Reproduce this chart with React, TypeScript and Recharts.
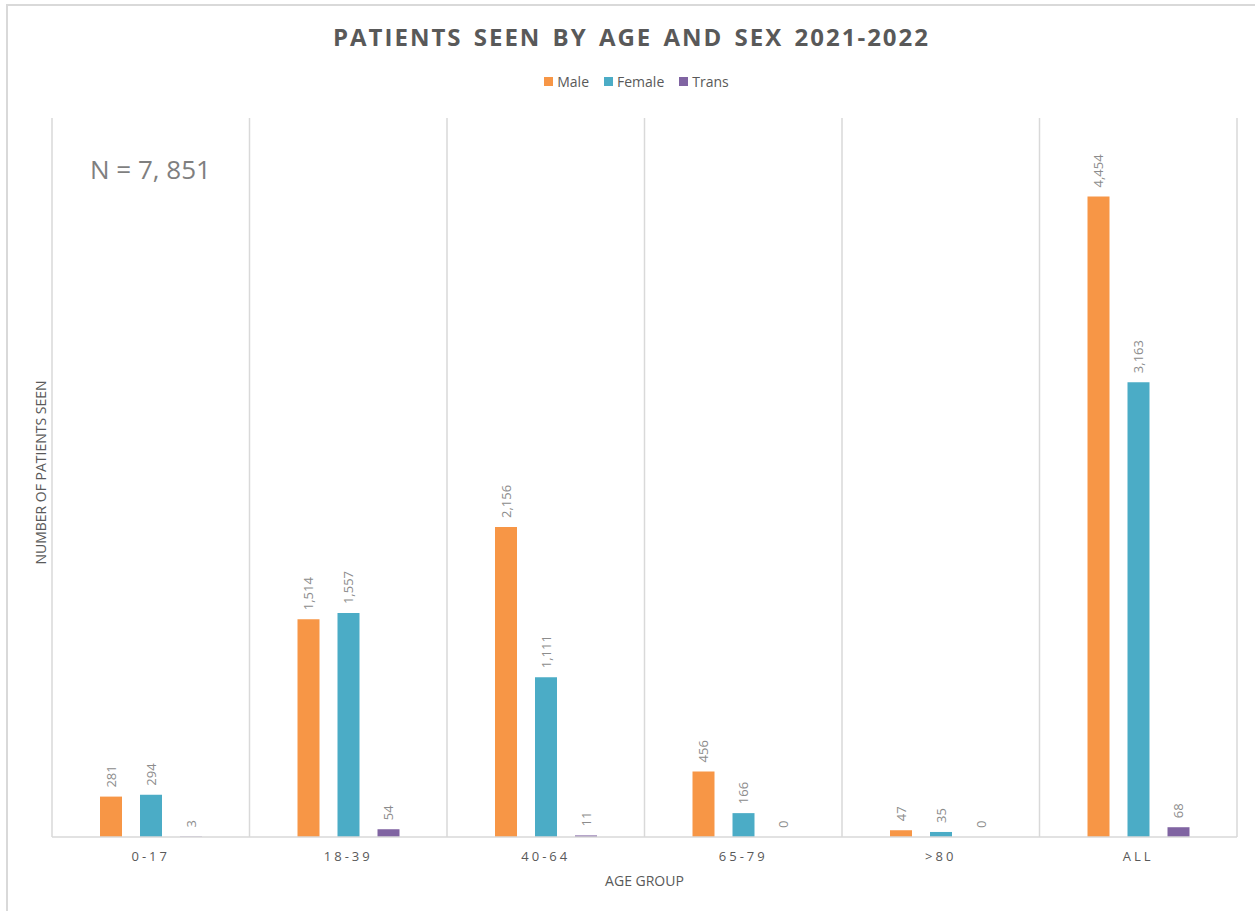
import React from "react";
import {
  BarChart,
  Bar,
  XAxis,
  YAxis,
  CartesianGrid,
  Legend,
  LabelList,
} from "recharts";

// Excel-style palette
const COLOURS = {
  male: "#F79646",
  female: "#4BACC6",
  trans: "#8064A2",
};

const AGE_GROUPS = ["0-17", "18-39", "40-64", "65-79", ">80", "ALL"];
const MALE = [281, 1514, 2156, 456, 47, 4454];
const FEMALE = [294, 1557, 1111, 166, 35, 3163];
const TRANS = [3, 54, 11, 0, 0, 68];

const data = AGE_GROUPS.map((group, i) => ({
  group,
  Male: MALE[i],
  Female: FEMALE[i],
  Trans: TRANS[i],
}));

const SERIES = [
  { key: "Male", colour: COLOURS.male },
  { key: "Female", colour: COLOURS.female },
  { key: "Trans", colour: COLOURS.trans },
];

const FONT = "'Open Sans', 'Liberation Sans', sans-serif";

// rotated value label sitting just above the bar
function BarValue(props: any) {
  const { x, y, width, value } = props;
  const cx = Number(x) + Number(width) / 2;
  const cy = Number(y) - 9;
  return (
    <text
      x={cx}
      y={cy}
      transform={`rotate(-90 ${cx} ${cy})`}
      textAnchor="start"
      dominantBaseline="central"
      fontSize={13}
      fontFamily={FONT}
      fill="#8c8c8c"
    >
      {Number(value).toLocaleString("en-US")}
    </text>
  );
}

function LegendRow() {
  return (
    <div
      style={{
        display: "flex",
        justifyContent: "center",
        gap: 15,
        fontSize: 14,
        color: "#595959",
        paddingLeft: 28,
      }}
    >
      {SERIES.map((s) => (
        <span key={s.key} style={{ display: "inline-flex", alignItems: "center", gap: 4 }}>
          <span style={{ display: "inline-block", width: 9, height: 9, background: s.colour }} />
          {s.key}
        </span>
      ))}
    </div>
  );
}

// keep zero bars in the layout so their "0" label still shows
const zeroSize = (value: any) => (Number(value) === 0 ? 0.01 : 0);

export default function App() {
  return (
    <div
      style={{
        position: "fixed",
        left: 0,
        top: 0,
        width: 1255,
        height: 911,
        overflow: "hidden",
        background: "#fff",
        fontFamily: FONT,
      }}
    >
      <div
        style={{
          position: "absolute",
          left: 6,
          top: 4,
          width: 1280,
          height: 940,
          borderTop: "2px solid #d9d9d9",
          borderLeft: "2px solid #d9d9d9",
        }}
      />
      <div
        style={{
          position: "absolute",
          left: 0,
          width: 1263,
          top: 20,
          textAlign: "center",
          fontSize: 24,
          fontWeight: 700,
          letterSpacing: 2,
          color: "#595959",
          wordSpacing: 3,
        }}
      >
        PATIENTS SEEN BY AGE AND SEX 2021-2022
      </div>
      <div
        style={{
          position: "absolute",
          left: 90,
          top: 151,
          fontSize: 26,
          color: "#7f7f7f",
        }}
      >
        N = 7, 851
      </div>
      <BarChart
        width={1255}
        height={911}
        data={data}
        margin={{ top: 99, right: 18, bottom: 44, left: 8 }}
        barSize={22}
        barGap={18}
      >
        <CartesianGrid
          horizontal={false}
          stroke="#d9d9d9"
          strokeWidth={1.5}
          verticalCoordinatesGenerator={({ offset }: any) =>
            AGE_GROUPS.map((_, i) => offset.left + (i * offset.width) / AGE_GROUPS.length).concat(
              offset.left + offset.width
            )
          }
        />
        <XAxis
          dataKey="group"
          tickLine={false}
          axisLine={{ stroke: "#d9d9d9", strokeWidth: 1.5 }}
          tick={{ fontSize: 13, fill: "#595959", letterSpacing: 3, fontFamily: FONT }}
          tickMargin={9}
          height={30}
          label={{
            value: "AGE GROUP",
            position: "bottom",
            offset: 9,
            fontSize: 14,
            fill: "#595959",
            fontFamily: FONT,
          }}
        />
        <YAxis
          domain={[0, 5000]}
          width={44}
          tick={false}
          tickLine={false}
          axisLine={false}
          label={{
            value: "NUMBER OF PATIENTS SEEN",
            angle: -90,
            position: "center",
            dx: 11,
            dy: -5,
            fontSize: 14,
            fill: "#595959",
            fontFamily: FONT,
          }}
        />
        <Legend verticalAlign="top" wrapperStyle={{ top: 72 }} content={<LegendRow />} />
        {SERIES.map((s) => (
          <Bar
            key={s.key}
            dataKey={s.key}
            fill={s.colour}
            minPointSize={zeroSize}
            isAnimationActive={false}
          >
            <LabelList dataKey={s.key} content={BarValue} />
          </Bar>
        ))}
      </BarChart>
    </div>
  );
}
